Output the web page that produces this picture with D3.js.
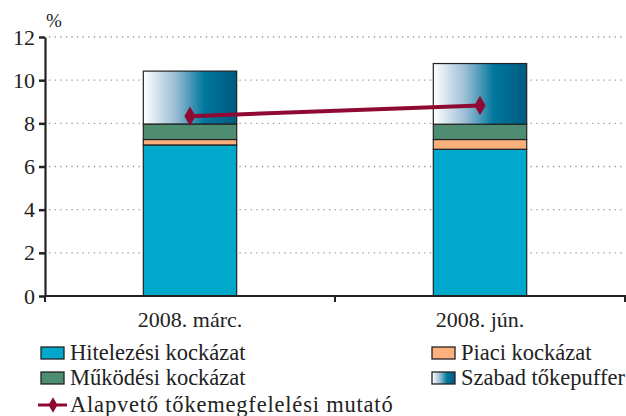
<!DOCTYPE html>
<html>
<head>
<meta charset="utf-8">
<script src="https://cdn.jsdelivr.net/npm/d3@7"></script>
<style>
  body { margin: 0; background: #fff; }
  svg { display: block; font-family: "Liberation Serif", "DejaVu Serif", serif; }
</style>
</head>
<body>
<svg id="chart" width="626" height="416"></svg>
<script>
// Data
var categories = ["2008. márc.", "2008. jún."];
var hitelezesi = [7.0, 6.8];
var piaci = [0.25, 0.45];
var mukodesi = [0.72, 0.71];
var szabad = [2.45, 2.81];
var mutato = [8.33, 8.83];
var yTicks = [0, 2, 4, 6, 8, 10, 12];

var seriesNames = ["Hitelezési kockázat", "Piaci kockázat", "Működési kockázat", "Szabad tőkepuffer"];
var seriesColors = ["#00a9cb", "#fbb07e", "#4e8d71", "url(#puffer)"];
var lineName = "Alapvető tőkemegfelelési mutató";
var lineColor = "#8e0a33";

var svg = d3.select("#chart");
var plotLeft = 45, plotRight = 625, plotTop = 37, plotBottom = 296;

// gradient for the free buffer
var grad = svg.append("defs").append("linearGradient")
    .attr("id", "puffer").attr("x1", "0%").attr("x2", "100%").attr("y1", "0%").attr("y2", "0%");
grad.append("stop").attr("offset", "0%").attr("stop-color", "#ffffff");
grad.append("stop").attr("offset", "35%").attr("stop-color", "#98bcd4");
grad.append("stop").attr("offset", "65%").attr("stop-color", "#00779c");
grad.append("stop").attr("offset", "100%").attr("stop-color", "#005a80");

var y = d3.scaleLinear().domain([0, 12]).range([plotBottom, plotTop]);
var x = d3.scaleBand().domain(categories).range([plotLeft, plotRight]).padding(0);
var barW = x.bandwidth() * 0.322;

// grid lines
svg.append("g").selectAll("line")
    .data(yTicks.filter(function (d) { return d > 0; }))
    .enter().append("line")
    .attr("x1", plotLeft + 4).attr("x2", plotRight)
    .attr("y1", function (d) { return y(d); }).attr("y2", function (d) { return y(d); })
    .style("stroke", "#999").style("stroke-width", 1.3).style("stroke-dasharray", "1.3,4.3");

// stacked bars
var rows = categories.map(function (c, i) {
    return { cat: c, v: [hitelezesi[i], piaci[i], mukodesi[i], szabad[i]] };
});
var bars = svg.append("g");
rows.forEach(function (r) {
    var base = 0;
    r.v.forEach(function (v, k) {
        bars.append("rect")
            .attr("x", x(r.cat) + x.bandwidth() / 2 - barW / 2)
            .attr("width", barW)
            .attr("y", y(base + v))
            .attr("height", y(base) - y(base + v))
            .style("fill", seriesColors[k])
            .style("stroke", "#222").style("stroke-width", 1.2);
        base += v;
    });
});

// x axis
var xAxis = svg.append("g").attr("transform", "translate(0," + plotBottom + ")");
xAxis.append("line").attr("x1", plotLeft).attr("x2", 626).style("stroke", "#222").style("stroke-width", 2);
xAxis.selectAll("line.tk").data([plotLeft, plotLeft + x.step(), plotRight]).enter().append("line")
    .attr("class", "tk").attr("x1", function (d) { return d; }).attr("x2", function (d) { return d; })
    .attr("y1", 0).attr("y2", 6).style("stroke", "#222").style("stroke-width", 2);
xAxis.selectAll("text").data(categories).enter().append("text")
    .attr("x", function (d) { return x(d) + x.bandwidth() / 2; })
    .attr("y", 31).attr("text-anchor", "middle")
    .style("font-size", "22px").style("fill", "#222")
    .text(function (d) { return d; });

// y axis
var yAxis = svg.append("g").attr("transform", "translate(" + plotLeft + ",0)")
    .call(d3.axisLeft(y).tickValues(yTicks).tickSize(6).tickPadding(4).tickSizeOuter(0));
yAxis.select(".domain").style("stroke", "#222").style("stroke-width", 2.2);
yAxis.selectAll(".tick line").style("stroke", "#222").style("stroke-width", 2.5);
yAxis.selectAll(".tick text").style("font-size", "22px").style("fill", "#222")
    .style("font-family", "Liberation Serif, serif");
svg.append("text").attr("x", 46).attr("y", 27).style("font-size", "19px").style("fill", "#222").text("%");

// line series
var pts = categories.map(function (c, i) { return [x(c) + x.bandwidth() / 2, y(mutato[i])]; });
svg.append("path").attr("d", d3.line()(pts))
    .style("fill", "none").style("stroke", lineColor).style("stroke-width", 4);
var diamond = d3.symbol().type(d3.symbolDiamond).size(110);
svg.append("g").selectAll("path").data(pts).enter().append("path")
    .attr("d", diamond)
    .attr("transform", function (d) { return "translate(" + d[0] + "," + d[1] + ")"; })
    .style("fill", lineColor);

// legend
var legend = svg.append("g").style("font-size", "22.5px").style("fill", "#222");
var legPos = [[41, 353], [432, 353], [41, 378], [432, 378]];
seriesNames.forEach(function (n, k) {
    var p = legPos[k];
    legend.append("rect").attr("x", p[0]).attr("y", p[1] - 6).attr("width", 23).attr("height", 12)
        .style("fill", seriesColors[k]).style("stroke", "#222").style("stroke-width", 1.3);
    legend.append("text").attr("x", p[0] + 29).attr("y", p[1] + 7).text(n);
});
legend.append("line").attr("x1", 38).attr("x2", 67).attr("y1", 405).attr("y2", 405)
    .style("stroke", lineColor).style("stroke-width", 3);
legend.append("path").attr("d", d3.symbol().type(d3.symbolDiamond).size(70))
    .attr("transform", "translate(53,405)").style("fill", lineColor);
legend.append("text").attr("x", 70).attr("y", 412).style("letter-spacing", "0.8px").text(lineName);
</script>
</body>
</html>
